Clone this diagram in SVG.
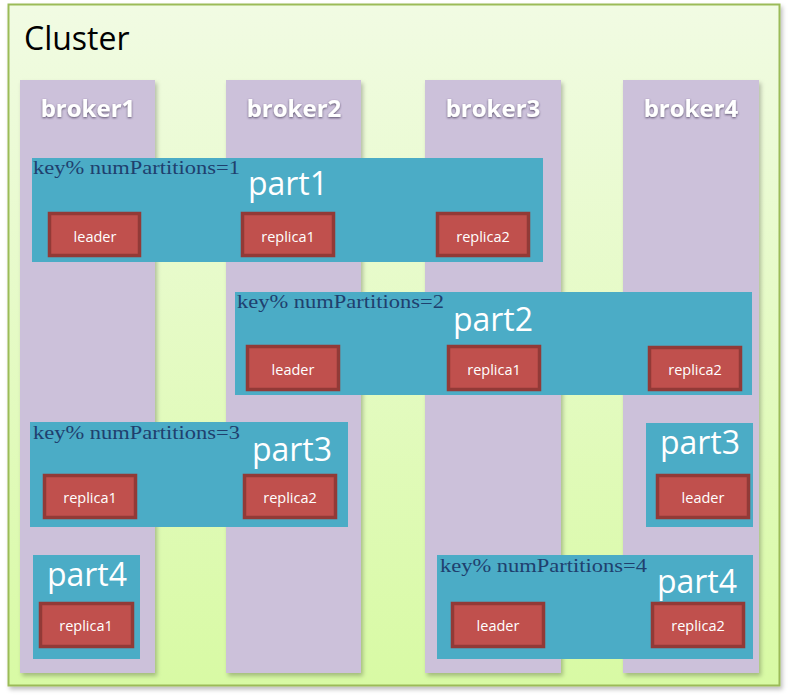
<svg xmlns="http://www.w3.org/2000/svg" width="788" height="697" viewBox="0 0 788 697">
<defs>
<linearGradient id="bg" x1="0" y1="0" x2="0" y2="1">
<stop offset="0" stop-color="#f1fbe3"/>
<stop offset="1" stop-color="#d8faa4"/>
</linearGradient>
<filter id="sh" x="-10%" y="-10%" width="130%" height="130%">
<feDropShadow dx="2" dy="3" stdDeviation="2" flood-color="#000" flood-opacity="0.25"/>
</filter>
<filter id="ts" x="-20%" y="-30%" width="140%" height="160%">
<feDropShadow dx="0" dy="1" stdDeviation="1.2" flood-color="#3a3050" flood-opacity="0.8"/>
</filter>
</defs>
<style>
.broker{fill:#ccc1da;filter:url(#sh);}
.blabel{font-family:"Open Sans","Liberation Sans",sans-serif;font-weight:bold;font-size:24px;fill:#fff;text-anchor:middle;filter:url(#ts);}
.part{fill:#4bacc6;}
.key{font-family:"Liberation Serif","Noto Sans CJK SC",serif;font-size:19px;fill:#1f406e;}
.ptitle{font-family:"Open Sans","Liberation Sans",sans-serif;font-size:32px;fill:#fff;text-anchor:middle;}
.rep{fill:#c0504d;stroke:#923a37;stroke-width:3.5;}
.rlabel{font-family:"Open Sans","Liberation Sans",sans-serif;font-size:14.5px;fill:#fff;text-anchor:middle;}
</style>
<g id="cluster">
<rect x="8.5" y="4.5" width="771" height="681" fill="url(#bg)" stroke="#9bbb59" stroke-width="2" filter="url(#sh)"/>
<text x="24" y="50" font-family="'Open Sans','Liberation Sans',sans-serif" font-size="32" fill="#000">Cluster</text>
</g>
<g id="broker1"><rect class="broker" x="20" y="80" width="135" height="593"/><text class="blabel" x="88" y="117">broker1</text></g>
<g id="broker2"><rect class="broker" x="226" y="80" width="135" height="593"/><text class="blabel" x="294" y="117">broker2</text></g>
<g id="broker3"><rect class="broker" x="425" y="80" width="136" height="593"/><text class="blabel" x="493" y="117">broker3</text></g>
<g id="broker4"><rect class="broker" x="623" y="80" width="136" height="593"/><text class="blabel" x="691" y="117">broker4</text></g>

<g id="part1">
<rect class="part" x="32" y="158" width="511" height="104"/>
<text class="key" x="33" y="174" textLength="207" lengthAdjust="spacingAndGlyphs">key% numPartitions=1</text>
<text class="ptitle" x="288" y="195">part1</text>
<rect class="rep" x="49.5" y="213.5" width="90" height="42"/><text class="rlabel" x="95" y="242">leader</text>
<rect class="rep" x="242.5" y="213.5" width="91" height="42"/><text class="rlabel" x="288" y="242">replica1</text>
<rect class="rep" x="437.5" y="213.5" width="91" height="42"/><text class="rlabel" x="483" y="242">replica2</text>
</g>

<g id="part2">
<rect class="part" x="235" y="292" width="517" height="103"/>
<text class="key" x="237" y="308" textLength="207" lengthAdjust="spacingAndGlyphs">key% numPartitions=2</text>
<text class="ptitle" x="493" y="331">part2</text>
<rect class="rep" x="247.5" y="346.5" width="91" height="43"/><text class="rlabel" x="293" y="375">leader</text>
<rect class="rep" x="448.5" y="346.5" width="91" height="43"/><text class="rlabel" x="494" y="375">replica1</text>
<rect class="rep" x="649.5" y="347.5" width="91" height="42"/><text class="rlabel" x="695" y="375">replica2</text>
</g>

<g id="part3a">
<rect class="part" x="30" y="422" width="318" height="105"/>
<text class="key" x="33" y="439" textLength="207" lengthAdjust="spacingAndGlyphs">key% numPartitions=3</text>
<text class="ptitle" x="292" y="461">part3</text>
<rect class="rep" x="44.5" y="475.5" width="91" height="42"/><text class="rlabel" x="90" y="503">replica1</text>
<rect class="rep" x="244.5" y="475.5" width="91" height="42"/><text class="rlabel" x="290" y="503">replica2</text>
</g>

<g id="part3b">
<rect class="part" x="646" y="423" width="107" height="104"/>
<text class="ptitle" x="700" y="454">part3</text>
<rect class="rep" x="657.5" y="475.5" width="91" height="42"/><text class="rlabel" x="703" y="503">leader</text>
</g>

<g id="part4a">
<rect class="part" x="33" y="555" width="107" height="104"/>
<text class="ptitle" x="87" y="586">part4</text>
<rect class="rep" x="40.5" y="603.5" width="92" height="43"/><text class="rlabel" x="86" y="631">replica1</text>
</g>

<g id="part4b">
<rect class="part" x="437" y="555" width="316" height="104"/>
<text class="key" x="440" y="572" textLength="207" lengthAdjust="spacingAndGlyphs">key% numPartitions=4</text>
<text class="ptitle" x="697" y="593">part4</text>
<rect class="rep" x="452.5" y="603.5" width="91" height="43"/><text class="rlabel" x="498" y="631">leader</text>
<rect class="rep" x="652.5" y="603.5" width="91" height="43"/><text class="rlabel" x="698" y="631">replica2</text>
</g>
<g id="connectors"/>
</svg>
